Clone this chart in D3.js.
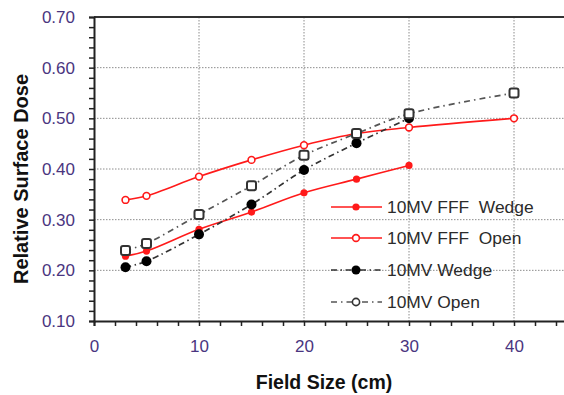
<!DOCTYPE html>
<html>
<head>
<meta charset="utf-8">
<script src="https://cdn.jsdelivr.net/npm/d3@7"></script>
<style>
  html, body { margin: 0; padding: 0; background: #fff; }
  svg { display: block; }
</style>
</head>
<body>
<svg id="chart" width="564" height="395"></svg>
<script>
// Field sizes (cm) and relative surface dose for each beam
const fieldSizesShort = [3, 5, 10, 15, 20, 25, 30];
const fieldSizesLong = [3, 5, 10, 15, 20, 25, 30, 40];
const fffWedge = [0.228, 0.238, 0.281, 0.315, 0.353, 0.380, 0.407];
const fffOpen = [0.339, 0.347, 0.385, 0.418, 0.447, 0.470, 0.482, 0.500];
const mvWedge = [0.206, 0.218, 0.271, 0.330, 0.398, 0.451, 0.500];
const mvOpen = [0.239, 0.253, 0.310, 0.367, 0.427, 0.470, 0.509, 0.550];

const seriesNames = ["10MV FFF  Wedge", "10MV FFF  Open", "10MV Wedge", "10MV Open"];
const xTickValues = [0, 10, 20, 30, 40];
const yTickValues = [0.1, 0.2, 0.3, 0.4, 0.5, 0.6, 0.7];

const svg = d3.select("#chart");
const plotLeft = 94, plotRight = 566.5, plotTop = 17, plotBottom = 321;

const x = d3.scaleLinear().domain([0, 45]).range([plotLeft, plotRight]);
const y = d3.scaleLinear().domain([0.1, 0.7]).range([plotBottom, plotTop]);

const tickColor = "#4a3580";

// dotted grid
const grid = svg.append("g");
grid.selectAll("line.h").data(yTickValues.filter(v => v > 0.15 && v < 0.65)).join("line")
  .attr("x1", plotLeft).attr("x2", plotRight)
  .attr("y1", d => y(d)).attr("y2", d => y(d))
  .attr("stroke", "#8c8c8c").attr("stroke-width", 1).attr("stroke-dasharray", "1.5,1.5");
grid.selectAll("line.v").data(xTickValues.filter(v => v > 0)).join("line")
  .attr("x1", d => x(d)).attr("x2", d => x(d))
  .attr("y1", plotTop).attr("y2", plotBottom)
  .attr("stroke", "#8c8c8c").attr("stroke-width", 1).attr("stroke-dasharray", "1.5,1.5");

// top border
svg.append("line").attr("x1", plotLeft).attr("x2", plotRight).attr("y1", plotTop).attr("y2", plotTop)
  .attr("stroke", "#333").attr("stroke-width", 2);

// y axis with minor ticks every 0.02
const yAxis = d3.axisLeft(y).tickValues(d3.range(0.1, 0.7001, 0.02)).tickSize(5).tickFormat("");
const gy = svg.append("g").attr("transform", `translate(${plotLeft},0)`).call(yAxis);
gy.select(".domain").attr("stroke", "#222").attr("stroke-width", 2);
gy.selectAll(".tick line").attr("stroke", "#222").attr("stroke-width", 1.5);

const yLabels = d3.axisLeft(y).tickValues(yTickValues).tickSize(0).tickPadding(19).tickFormat(d3.format(".2f"));
const gyl = svg.append("g").attr("transform", `translate(${plotLeft},0)`).call(yLabels);
gyl.select(".domain").remove();
gyl.selectAll("text").attr("fill", tickColor).style("font-family", "Liberation Sans, Arial, sans-serif").style("font-size", "17px");

// x axis with minor ticks every 2 cm
const xAxis = d3.axisBottom(x).tickValues(d3.range(0, 45.01, 2)).tickSize(5).tickFormat("");
const gx = svg.append("g").attr("transform", `translate(0,${plotBottom})`).call(xAxis);
gx.select(".domain").attr("stroke", "#222").attr("stroke-width", 2);
gx.selectAll(".tick line").attr("stroke", "#222").attr("stroke-width", 1.5);

const xLabels = d3.axisBottom(x).tickValues(xTickValues).tickSize(0).tickPadding(19).tickFormat(d3.format("d"));
const gxl = svg.append("g").attr("transform", `translate(0,${plotBottom})`).call(xLabels);
gxl.select(".domain").remove();
gxl.selectAll("text").attr("fill", tickColor).style("font-family", "Liberation Sans, Arial, sans-serif").style("font-size", "17px");

// axis titles
svg.append("text")
  .attr("transform", "translate(28,179) rotate(-90)")
  .attr("text-anchor", "middle")
  .style("font-family", "Liberation Sans, Arial, sans-serif").style("font-weight", "bold").style("font-size", "20px")
  .attr("fill", "#111").text("Relative Surface Dose");
svg.append("text")
  .attr("x", 324).attr("y", 389)
  .attr("text-anchor", "middle")
  .style("font-family", "Liberation Sans, Arial, sans-serif").style("font-weight", "bold").style("font-size", "19.5px")
  .attr("fill", "#111").text("Field Size (cm)");

// series definitions
const series = [
  { name: seriesNames[0], xs: fieldSizesShort, ys: fffWedge, stroke: "#ff1a1a", dash: null, width: 1.6, marker: "fillDot" },
  { name: seriesNames[1], xs: fieldSizesLong, ys: fffOpen, stroke: "#ff1a1a", dash: null, width: 1.6, marker: "openDot" },
  { name: seriesNames[2], xs: fieldSizesShort, ys: mvWedge, stroke: "#333", dash: "6,3.5,1.5,3.5", width: 1.7, marker: "blackDot" },
  { name: seriesNames[3], xs: fieldSizesLong, ys: mvOpen, stroke: "#555", dash: "6,4,1.5,4", width: 1.7, marker: "openSquare" }
];

const line = d3.line().x(d => x(d[0])).y(d => y(d[1])).curve(d3.curveCatmullRom.alpha(0.5));

function drawMarker(g, kind, cx, cy, legend) {
  if (kind === "fillDot") {
    g.append("circle").attr("cx", cx).attr("cy", cy).attr("r", 3.6).attr("fill", "#ff1a1a");
  } else if (kind === "openDot") {
    g.append("circle").attr("cx", cx).attr("cy", cy).attr("r", 3.4)
      .attr("fill", "#fff").attr("stroke", "#ff1a1a").attr("stroke-width", 1.6);
  } else if (kind === "blackDot") {
    g.append("circle").attr("cx", cx).attr("cy", cy).attr("r", legend ? 4.5 : 5).attr("fill", "#000");
  } else if (kind === "openSquare") {
    if (legend) {
      g.append("circle").attr("cx", cx).attr("cy", cy).attr("r", 3.6)
        .attr("fill", "#fff").attr("stroke", "#333").attr("stroke-width", 1.6);
    } else {
      g.append("rect").attr("x", cx - 4.5).attr("y", cy - 4.5).attr("width", 9).attr("height", 9)
        .attr("rx", 2).attr("fill", "#fff").attr("stroke", "#333").attr("stroke-width", 2);
    }
  }
}

const plot = svg.append("g");
series.forEach(s => {
  const pts = s.xs.map((v, i) => [v, s.ys[i]]);
  plot.append("path").datum(pts).attr("d", line)
    .attr("fill", "none").attr("stroke", s.stroke).attr("stroke-width", s.width)
    .attr("stroke-dasharray", s.dash);
});
series.forEach(s => {
  const g = plot.append("g");
  s.xs.forEach((v, i) => drawMarker(g, s.marker, x(v), y(s.ys[i]), false));
});

// legend
const legendRows = [207, 238, 270, 302];
const lg = svg.append("g");
series.forEach((s, i) => {
  const ly = legendRows[i];
  lg.append("line").attr("x1", 331).attr("x2", 382).attr("y1", ly).attr("y2", ly)
    .attr("stroke", s.stroke).attr("stroke-width", s.width).attr("stroke-dasharray", s.dash);
  drawMarker(lg, s.marker, 356, ly, true);
  lg.append("text").attr("x", 387).attr("y", ly).attr("dy", "0.36em")
    .style("font-family", "Liberation Sans, Arial, sans-serif").style("font-size", "17.4px")
    .attr("fill", "#2b2b2b").style("white-space", "pre").text(s.name);
});
</script>
</body>
</html>
